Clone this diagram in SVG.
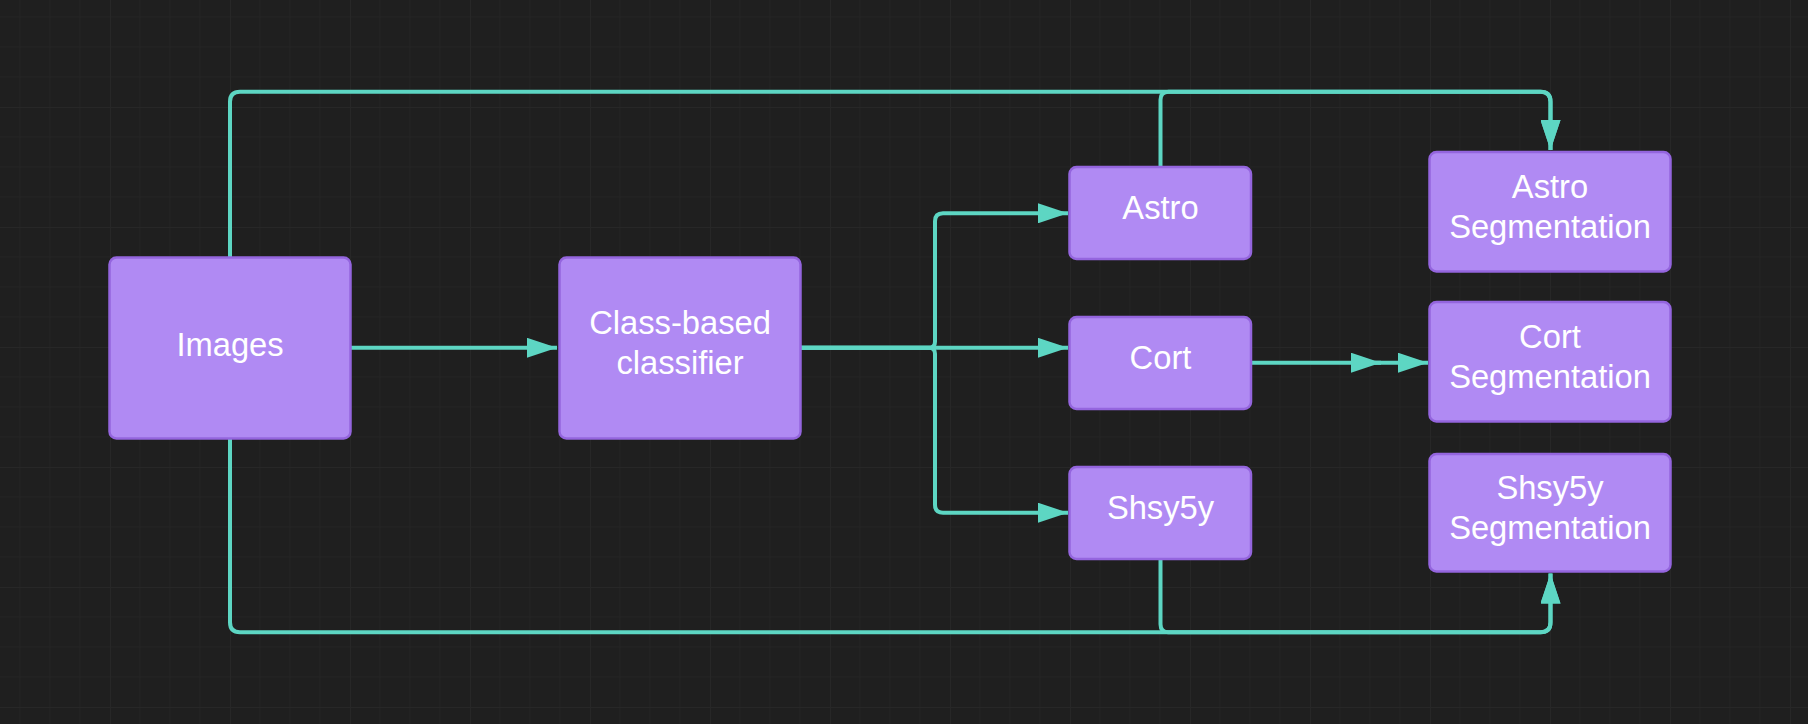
<svg xmlns="http://www.w3.org/2000/svg" width="1808" height="724" viewBox="0 0 1808 724">
<style>
.node rect{fill:#b08af3;stroke:#9465de;stroke-width:2.5}
.node text{font-family:"Liberation Sans",Arial,sans-serif;font-size:32.7px;fill:#ffffff;text-anchor:middle}
.edge{fill:none;stroke:#5dd6c3;stroke-width:4}
</style>
<defs>
<pattern id="grid" patternUnits="userSpaceOnUse" x="110" y="107" width="120" height="120">
<path d="M30,0V120M60,0V120M90,0V120M0,30H120M0,60H120M0,90H120" stroke="#232323" stroke-width="1" fill="none"/>
<path d="M0.5,0V120M0,0.5H120" stroke="#272727" stroke-width="1" fill="none"/>
</pattern>
<marker id="arrow" viewBox="0 0 30 20" refX="30" refY="10" markerWidth="30" markerHeight="20" markerUnits="userSpaceOnUse" orient="auto">
<path d="M0,0L30,10L0,20z" fill="#5dd6c3"/>
</marker>
</defs>
<rect width="1808" height="724" fill="#1f1f1f"/>
<rect width="1808" height="724" fill="url(#grid)"/>
<g id="connectors">
<path class="edge" d="M351,347.8H557" marker-end="url(#arrow)"/>
<path class="edge" d="M800,347.8H929Q935,347.8 935,341.8V221.3Q935,213.3 943,213.3H1068" marker-end="url(#arrow)"/>
<path class="edge" d="M800,347.8H1068" marker-end="url(#arrow)"/>
<path class="edge" d="M800,347.8H929Q935,347.8 935,353.8V504.7Q935,512.7 943,512.7H1068" marker-end="url(#arrow)"/>
<path class="edge" d="M230,257V101.7Q230,91.7 240,91.7H1540.5Q1550.5,91.7 1550.5,101.7V150" marker-end="url(#arrow)"/>
<path class="edge" d="M1160.5,166.7V99.7Q1160.5,91.7 1168.5,91.7H1540.5Q1550.5,91.7 1550.5,101.7V150" marker-end="url(#arrow)"/>
<path class="edge" d="M230,439V622.3Q230,632.3 240,632.3H1540.5Q1550.5,632.3 1550.5,622.3V573.5" marker-end="url(#arrow)"/>
<path class="edge" d="M1160.5,559V624.3Q1160.5,632.3 1168.5,632.3H1540.5Q1550.5,632.3 1550.5,622.3V573.5" marker-end="url(#arrow)"/>
<path class="edge" d="M1251,362.7H1381" marker-end="url(#arrow)"/>
<path class="edge" d="M1375,362.7H1428" marker-end="url(#arrow)"/>
</g>
<g id="images" class="node">
<rect x="109.5" y="257.5" width="241" height="181" rx="7"/>
<text x="230" y="355.5">Images</text>
</g>
<g id="classifier" class="node">
<rect x="559.5" y="257.5" width="241" height="181" rx="7"/>
<text x="680" y="333.5">Class-based</text>
<text x="680" y="374">classifier</text>
</g>
<g id="astro" class="node">
<rect x="1069.5" y="167" width="181.5" height="92" rx="7"/>
<text x="1160.5" y="219.3">Astro</text>
</g>
<g id="cort" class="node">
<rect x="1069.5" y="317" width="181.5" height="92" rx="7"/>
<text x="1160.5" y="369.3">Cort</text>
</g>
<g id="shsy5y" class="node">
<rect x="1069.5" y="467" width="181.5" height="92" rx="7"/>
<text x="1160.5" y="519.3">Shsy5y</text>
</g>
<g id="astro_seg" class="node">
<rect x="1429.5" y="152" width="241" height="119.5" rx="7"/>
<text x="1550" y="198.3">Astro</text>
<text x="1550" y="237.7">Segmentation</text>
</g>
<g id="cort_seg" class="node">
<rect x="1429.5" y="302" width="241" height="119.5" rx="7"/>
<text x="1550" y="348.4">Cort</text>
<text x="1550" y="387.8">Segmentation</text>
</g>
<g id="shsy5y_seg" class="node">
<rect x="1429.5" y="454" width="241" height="117.5" rx="7"/>
<text x="1550" y="499.4">Shsy5y</text>
<text x="1550" y="538.8">Segmentation</text>
</g>
</svg>
